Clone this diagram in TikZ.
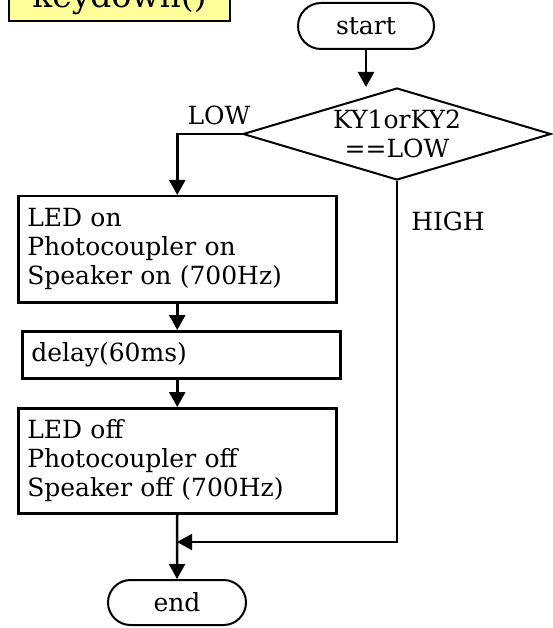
\documentclass[tikz,border=0pt]{standalone}
\usepackage{fontspec}
\setmainfont{DejaVu Serif}
\usetikzlibrary{shapes.geometric,shapes.misc,arrows.meta}
\definecolor{kyellow}{RGB}{255,255,153}
\begin{document}
\begin{tikzpicture}[x=1pt,y=-1pt,
  txt/.style={font=\fontsize{25}{29}\selectfont},
  proc/.style={draw, line width=2.5pt, txt, align=left, anchor=north west,
    inner xsep=9pt, inner ysep=0pt, text width=300pt},
  term/.style={draw, rounded rectangle, line width=2pt, txt, inner sep=0pt},
  flow/.style={line width=2.5pt, -{Triangle[length=15pt,width=16pt]}},
  thinflow/.style={line width=1.7pt, -{Triangle[length=15pt,width=16pt]}},
  lbl/.style={txt, inner sep=0pt}]
\useasboundingbox (0,0) rectangle (552,628);
\node[draw, line width=2pt, fill=kyellow, anchor=base, minimum width=221pt,
  inner ysep=13pt, text depth=0pt, font=\fontsize{33}{36}\selectfont] (kd) at (119.5,8) {keydown()};
\node[term, minimum width=136pt, minimum height=46pt] (start) at (366,26) {start};
\node[diamond, draw, line width=2pt, aspect=3.35, minimum width=308pt, minimum height=92pt,
  inner sep=0pt, align=center, txt] (d) at (397,134) {KY1orKY2\\==LOW};
\node[proc, minimum height=106pt] (b1) at (17,195) {LED on\\Photocoupler on\\Speaker on (700Hz)};
\node[proc, minimum height=47pt] (b2) at (21,330) {delay(60ms)};
\node[proc, minimum height=105pt] (b3) at (17,407) {LED off\\Photocoupler off\\Speaker off (700Hz)};
\node[term, minimum width=138pt, minimum height=45pt] (e) at (177,602.5) {end};
\node[lbl] (low) at (219,115) {LOW};
\node[lbl] (high) at (448,221) {HIGH};
\coordinate (m) at (177,542);
\draw[flow] (start.south) -- (start.south |- d.north);
\draw[flow] (d.west) -| (b1.north);
\draw[flow] (b1.south) -- (b1.south |- b2.north);
\draw[flow] (b2.south -| b1.south) -- (b3.north);
\draw[flow] (b3.south) -- (e.north);
\draw[thinflow] (d.south) |- (m);
\end{tikzpicture}
\end{document}
